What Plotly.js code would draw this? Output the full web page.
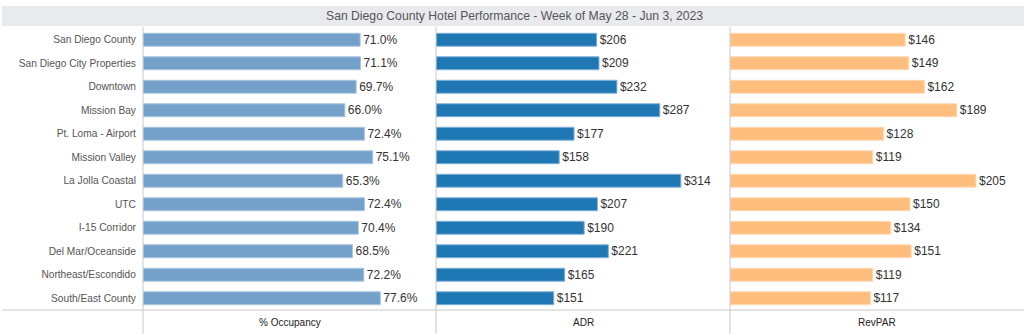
<!DOCTYPE html>
<html>
<head>
<meta charset="utf-8">
<script src="https://cdn.plot.ly/plotly-3.0.1.min.js"></script>
<style>
html,body{margin:0;padding:0;background:#fff;}
#chart{width:1024px;height:334px;}
</style>
</head>
<body>
<div id="chart"></div>
<script>
const regions = ["San Diego County","San Diego City Properties","Downtown","Mission Bay","Pt. Loma - Airport","Mission Valley","La Jolla Coastal","UTC","I-15 Corridor","Del Mar/Oceanside","Northeast/Escondido","South/East County"];
const occupancy = [71.0,71.1,69.7,66.0,72.4,75.1,65.3,72.4,70.4,68.5,72.2,77.6];
const adr = [206,209,232,287,177,158,314,207,190,221,165,151];
const revpar = [146,149,162,189,128,119,205,150,134,151,119,117];
const panelTitles = ["% Occupancy","ADR","RevPAR"];
const chartTitle = "San Diego County Hotel Performance - Week of May 28 - Jun 3, 2023";

const W = 1024, H = 334;
const mL = 143, mR = 0, mT = 28, mB = 24;
const pw = W - mL - mR, ph = H - mT - mB;
const px2x = p => (p - mL) / pw;
const py2y = p => (H - mB - p) / ph;

const d1 = px2x(436), d2 = px2x(730);
const FONT = "Liberation Sans, Arial, sans-serif";

function barTrace(vals, xa, color, lineColor, fmt) {
  return {
    type: 'bar', orientation: 'h', y: regions, x: vals, xaxis: xa, yaxis: 'y',
    marker: {color: color, line: {color: lineColor, width: 1}},
    text: vals.map(fmt), textposition: 'outside', cliponaxis: false,
    constraintext: 'none',
    textfont: {family: FONT, size: 12, color: '#333'},
    hoverinfo: 'none', showlegend: false
  };
}

const traces = [
  barTrace(occupancy, 'x', '#73a1c9', '#a9c6e0', v => v.toFixed(1) + '%'),
  barTrace(adr, 'x2', '#1f77b4', '#7fb2d8', v => '$' + v),
  barTrace(revpar, 'x3', '#ffbe7d', '#ffd9b3', v => '$' + v)
];

const axBase = {showgrid: false, zeroline: false, showticklabels: false, showline: false, ticks: '', fixedrange: true};

const lineCol = '#c8c8c8';
const shapes = [
  {type: 'rect', xref: 'paper', yref: 'paper', x0: px2x(2), x1: px2x(1024), y0: py2y(26), y1: py2y(6), fillcolor: '#e9eaed', line: {width: 0}, layer: 'below'},
  {type: 'line', xref: 'paper', yref: 'paper', x0: px2x(2), x1: px2x(1024), y0: py2y(310), y1: py2y(310), line: {color: lineCol, width: 1}},
  {type: 'line', xref: 'paper', yref: 'paper', x0: 0, x1: 0, y0: py2y(334), y1: py2y(27), line: {color: lineCol, width: 1}},
  {type: 'line', xref: 'paper', yref: 'paper', x0: d1, x1: d1, y0: py2y(334), y1: py2y(27), line: {color: lineCol, width: 1}},
  {type: 'line', xref: 'paper', yref: 'paper', x0: d2, x1: d2, y0: py2y(334), y1: py2y(27), line: {color: lineCol, width: 1}}
];

const centers = [d1 / 2, (d1 + d2) / 2, (d2 + 1) / 2];
const annotations = panelTitles.map((t, i) => ({
  text: t, xref: 'paper', yref: 'paper', x: centers[i], y: py2y(322),
  showarrow: false, xanchor: 'center', yanchor: 'middle',
  font: {family: FONT, size: 10, color: '#222'}
}));
annotations.push({
  text: chartTitle, xref: 'paper', yref: 'paper', x: px2x(514), y: py2y(16),
  showarrow: false, xanchor: 'center', yanchor: 'middle',
  font: {family: FONT, size: 12.2, color: '#555'}
});

const layout = {
  width: W, height: H,
  margin: {l: mL, r: mR, t: mT, b: mB, pad: 0},
  paper_bgcolor: '#fff', plot_bgcolor: '#fff',
  font: {family: FONT},
  bargap: 0.45,
  showlegend: false,
  xaxis: Object.assign({}, axBase, {domain: [0, d1], range: [0, 95.8]}),
  xaxis2: Object.assign({}, axBase, {domain: [d1, d2], range: [0, 377], anchor: 'y'}),
  xaxis3: Object.assign({}, axBase, {domain: [d2, 1], range: [0, 245], anchor: 'y'}),
  yaxis: {autorange: 'reversed', type: 'category', showgrid: false, zeroline: false, showline: false,
          ticks: 'outside', ticklen: 4, tickcolor: 'rgba(0,0,0,0)',
          tickfont: {family: FONT, size: 10.2, color: '#555'}, fixedrange: true},
  shapes: shapes,
  annotations: annotations
};

Plotly.newPlot('chart', traces, layout, {displayModeBar: false, staticPlot: true});
</script>
</body>
</html>
